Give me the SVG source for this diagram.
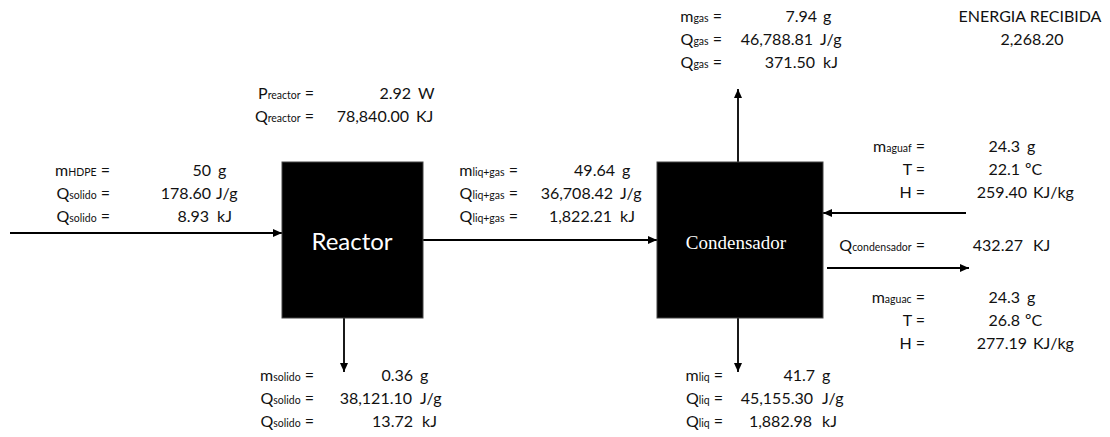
<svg xmlns="http://www.w3.org/2000/svg" width="1110" height="437" viewBox="0 0 1110 437">
<style>
.t{font-family:Lato,"Open Sans","Liberation Sans",sans-serif;font-size:16px;fill:#111}
.s{font-size:10.5px}
.e{text-anchor:end}
.c{text-anchor:middle}
.ln{stroke:#000;stroke-width:1.8;fill:none;marker-end:url(#ah)}
.box{fill:#000;stroke:#444;stroke-width:1}
</style>
<defs>
<marker id="ah" markerUnits="userSpaceOnUse" markerWidth="9" markerHeight="8" refX="9" refY="4" orient="auto">
<path d="M0,0 L9,4 L0,8 z" fill="#000"/>
</marker>
</defs>
<g id="connectors">
<path class="ln" d="M10,233 H282"/>
<path class="ln" d="M423,240 H657"/>
<path class="ln" d="M344,318 V372"/>
<path class="ln" d="M738,162 V89"/>
<path class="ln" d="M738,318 V372"/>
<path class="ln" d="M966,213 H823"/>
<path class="ln" d="M827,268 H969"/>
</g>
<g id="reactor">
<rect class="box" x="282" y="162" width="141" height="156"/>
<text x="352" y="250" text-anchor="middle" style="font-family:Lato,'Open Sans','Liberation Sans',sans-serif;font-size:24px;fill:#fff">Reactor</text>
</g>
<g id="condensador">
<rect class="box" x="657" y="162" width="166" height="156"/>
<text x="736" y="249" text-anchor="middle" style="font-family:'Liberation Serif','DejaVu Serif',serif;font-size:19px;fill:#fff">Condensador</text>
</g>
<g id="entrada">
<text class="t e" x="110" y="176">m<tspan class="s">HDPE</tspan> =</text>
<text class="t e" x="211" y="176">50</text><text class="t" x="218" y="176">g</text>
<text class="t e" x="110" y="199">Q<tspan class="s">solido</tspan> =</text>
<text class="t e" x="211" y="199">178.60</text><text class="t" x="216" y="199">J/g</text>
<text class="t e" x="110" y="222">Q<tspan class="s">solido</tspan> =</text>
<text class="t e" x="209" y="222">8.93</text><text class="t" x="217" y="222">kJ</text>
</g>
<g id="reactor-datos">
<text class="t e" x="314" y="99">P<tspan class="s">reactor</tspan> =</text>
<text class="t e" x="411" y="99">2.92</text><text class="t" x="418" y="99">W</text>
<text class="t e" x="314" y="122">Q<tspan class="s">reactor</tspan> =</text>
<text class="t e" x="409" y="122">78,840.00</text><text class="t" x="416" y="122">KJ</text>
</g>
<g id="liq-gas">
<text class="t e" x="518" y="176">m<tspan class="s">liq+gas</tspan> =</text>
<text class="t e" x="615" y="176">49.64</text><text class="t" x="622" y="176">g</text>
<text class="t e" x="518" y="199">Q<tspan class="s">liq+gas</tspan> =</text>
<text class="t e" x="613" y="199">36,708.42</text><text class="t" x="620" y="199">J/g</text>
<text class="t e" x="518" y="222">Q<tspan class="s">liq+gas</tspan> =</text>
<text class="t e" x="612" y="222">1,822.21</text><text class="t" x="620" y="222">kJ</text>
</g>
<g id="gas">
<text class="t e" x="722" y="22">m<tspan class="s">gas</tspan> =</text>
<text class="t e" x="817" y="22">7.94</text><text class="t" x="823" y="22">g</text>
<text class="t e" x="722" y="45">Q<tspan class="s">gas</tspan> =</text>
<text class="t e" x="813" y="45">46,788.81</text><text class="t" x="820" y="45">J/g</text>
<text class="t e" x="722" y="68">Q<tspan class="s">gas</tspan> =</text>
<text class="t e" x="815" y="68">371.50</text><text class="t" x="823" y="68">kJ</text>
</g>
<g id="energia">
<text class="t c" x="1030" y="22">ENERGIA RECIBIDA</text>
<text class="t c" x="1032" y="45">2,268.20</text>
</g>
<g id="agua-fria">
<text class="t e" x="925" y="152">m<tspan class="s">aguaf</tspan> =</text>
<text class="t e" x="1020" y="152">24.3</text><text class="t" x="1027" y="152">g</text>
<text class="t e" x="925" y="175">T =</text>
<text class="t e" x="1020" y="175">22.1</text><text class="t" x="1025" y="175">ºC</text>
<text class="t e" x="925" y="198">H =</text>
<text class="t e" x="1027" y="198">259.40</text><text class="t" x="1033" y="198">KJ/kg</text>
<text class="t e" x="925" y="251">Q<tspan class="s">condensador</tspan> =</text>
<text class="t e" x="1023" y="251">432.27</text><text class="t" x="1033" y="251">KJ</text>
</g>
<g id="agua-caliente">
<text class="t e" x="925" y="303">m<tspan class="s">aguac</tspan> =</text>
<text class="t e" x="1020" y="303">24.3</text><text class="t" x="1027" y="303">g</text>
<text class="t e" x="925" y="326">T =</text>
<text class="t e" x="1020" y="326">26.8</text><text class="t" x="1025" y="326">ºC</text>
<text class="t e" x="925" y="349">H =</text>
<text class="t e" x="1027" y="349">277.19</text><text class="t" x="1033" y="349">KJ/kg</text>
</g>
<g id="solido">
<text class="t e" x="314" y="381">m<tspan class="s">solido</tspan> =</text>
<text class="t e" x="413" y="381">0.36</text><text class="t" x="420" y="381">g</text>
<text class="t e" x="314" y="404">Q<tspan class="s">solido</tspan> =</text>
<text class="t e" x="412" y="404">38,121.10</text><text class="t" x="420" y="404">J/g</text>
<text class="t e" x="314" y="427">Q<tspan class="s">solido</tspan> =</text>
<text class="t e" x="413" y="427">13.72</text><text class="t" x="422" y="427">kJ</text>
</g>
<g id="liquido">
<text class="t e" x="723" y="381">m<tspan class="s">liq</tspan> =</text>
<text class="t e" x="815" y="381">41.7</text><text class="t" x="822" y="381">g</text>
<text class="t e" x="723" y="404">Q<tspan class="s">liq</tspan> =</text>
<text class="t e" x="813" y="404">45,155.30</text><text class="t" x="822" y="404">J/g</text>
<text class="t e" x="723" y="427">Q<tspan class="s">liq</tspan> =</text>
<text class="t e" x="812" y="427">1,882.98</text><text class="t" x="822" y="427">kJ</text>
</g>
</svg>
